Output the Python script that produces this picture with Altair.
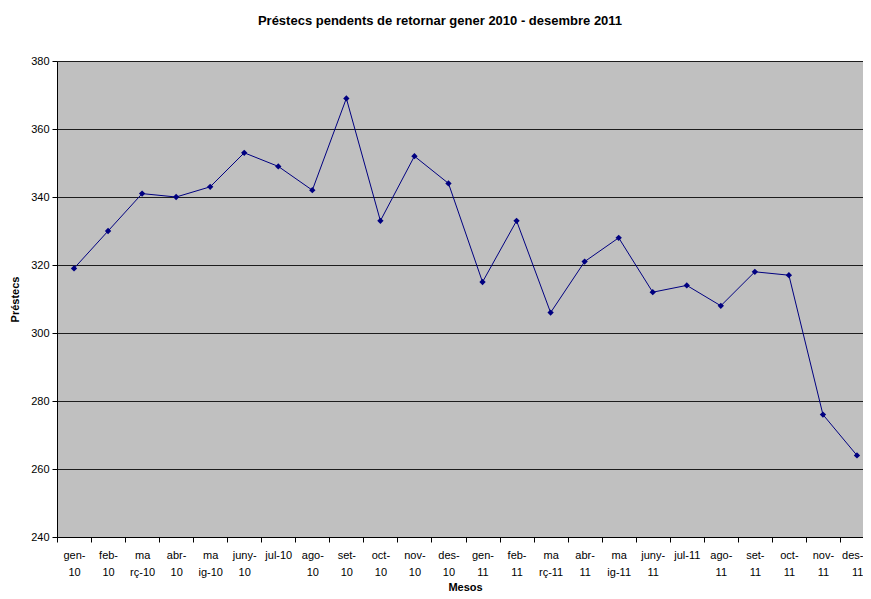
import altair as alt
import pandas as pd

months = ["gen-\n10", "feb-\n10", "ma\nrç-10", "abr-\n10", "ma\nig-10", "juny-\n10",
          "jul-10", "ago-\n10", "set-\n10", "oct-\n10", "nov-\n10", "des-\n10",
          "gen-\n11", "feb-\n11", "ma\nrç-11", "abr-\n11", "ma\nig-11", "juny-\n11",
          "jul-11", "ago-\n11", "set-\n11", "oct-\n11", "nov-\n11", "des-\n11"]
values = [319, 330, 341, 340, 343, 353, 349, 342, 369, 333, 352, 344,
          315, 333, 306, 321, 328, 312, 314, 308, 318, 317, 276, 264]
y_ticks = [240, 260, 280, 300, 320, 340, 360, 380]

df = pd.DataFrame({"mes": months, "prestecs": values})

FONT = "Liberation Sans"
NAVY = "#000080"

x_enc = alt.X("mes:N", sort=months,
              scale=alt.Scale(type="band", paddingInner=0, paddingOuter=0, range=[0, 817]),
              axis=alt.Axis(title="Mesos", labelExpr="split(datum.label, '\\n')",
                            labelAngle=0, tickBand="extent", ticks=True, tickSize=5,
                            tickColor="black", domainColor="black", labelColor="black",
                            labelFont=FONT, labelFontSize=11, labelPadding=7,
                            labelLineHeight=17, labelBaseline="top",
                            labelAlign={"condition": {"test": "datum.index >= 1", "value": "right"},
                                        "value": "center"},
                            labelOffset={"condition": {"test": "datum.index >= 1", "value": 6},
                                         "value": 0},
                            titleFont=FONT, titleFontSize=11, titleFontWeight="bold",
                            titleColor="black", grid=False,
                            titleX=408, titleY=53, titleBaseline="alphabetic"))
y_enc = alt.Y("prestecs:Q",
              scale=alt.Scale(domain=[240, 380], nice=False, zero=False),
              axis=alt.Axis(title="Préstecs", values=y_ticks, grid=True, gridColor="black",
                            gridWidth=1, gridOpacity=0.85, tickSize=5, tickColor="black",
                            domainColor="black", labelColor="black", labelFont=FONT,
                            labelFontSize=11, labelPadding=3, titleFont=FONT,
                            titleFontSize=11, titleFontWeight="bold", titleColor="black",
                            titlePadding=10))

base = alt.Chart(df).encode(x=x_enc, y=y_enc)
line = base.mark_line(color=NAVY, strokeWidth=1)
pts = base.mark_point(shape="diamond", filled=True, color=NAVY, size=40, opacity=1)

chart = alt.layer(line, pts).properties(
    width=806, height=476,
    title=alt.TitleParams("Préstecs pendents de retornar gener 2010 - desembre 2011",
                          font=FONT, fontSize=13, fontWeight="bold", color="black",
                          anchor="middle", dx=-20, offset=27),
    autosize="none",
    padding={"left": 49, "top": 53, "right": 0, "bottom": 54},
    background="white",
).configure_view(fill="#C0C0C0", stroke=None)

chart.save("out.html", embed_options={"renderer": "svg", "actions": False})
